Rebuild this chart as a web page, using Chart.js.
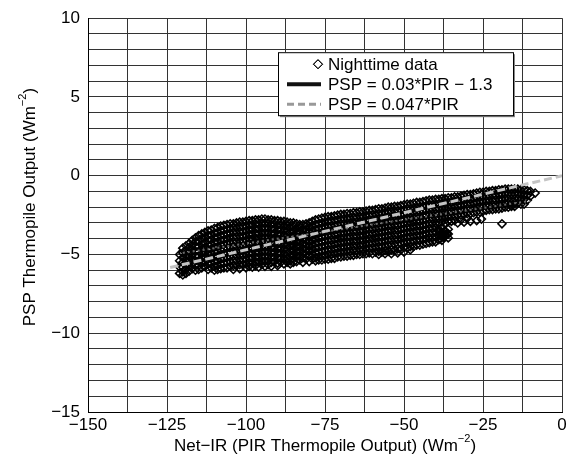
<!DOCTYPE html>
<html>
<head>
<meta charset="utf-8">
<script src="https://cdn.jsdelivr.net/npm/chart.js@4/dist/chart.umd.min.js"></script>
<style>
  html, body { margin: 0; background: #fff; }
  #c { display: block; }
</style>
</head>
<body>
<canvas id="c" width="574" height="459"></canvas>
<script>
// axis ranges / ticks
const xMin = -150, xMax = 0, xGridStep = 12.5, xLabelStep = 25;
const yMin = -15, yMax = 10, yGridStep = 1, yLabelStep = 5;

// nighttime data: [PIR, [PSP values]]
const nightCols = [
  [-121, [-5.0,-5.4,-5.8,-6.2]],
  [-120, [-4.6,-4.9,-5.2,-5.5,-5.8,-6.1,-6.3]],
  [-119, [-4.45,-4.75,-5.05,-5.35,-5.65,-5.95,-6.2]],
  [-118, [-4.3,-4.55,-4.85,-5.15,-5.45,-5.75,-6.05]],
  [-117, [-4.1,-4.4,-4.7,-5.0,-5.3,-5.6,-5.9]],
  [-116, [-3.95,-4.2,-4.5,-4.8,-5.1,-5.4,-5.7,-6.0]],
  [-115, [-3.8,-4.15,-4.5,-4.8,-5.1,-5.4,-5.7,-5.95]],
  [-114, [-3.7,-4.0,-4.35,-4.65,-4.95,-5.25,-5.55,-5.85]],
  [-113, [-3.6,-3.9,-4.25,-4.55,-4.85,-5.15,-5.45,-5.75]],
  [-112, [-3.5,-3.8,-4.1,-4.4,-4.7,-5.0,-5.3,-5.6,-5.95]],
  [-111, [-3.45,-3.75,-4.05,-4.35,-4.65,-4.95,-5.25,-5.55,-5.85]],
  [-110, [-3.35,-3.65,-3.95,-4.25,-4.55,-4.85,-5.15,-5.45,-5.75,-6.0]],
  [-109, [-3.3,-3.6,-3.9,-4.2,-4.5,-4.8,-5.1,-5.4,-5.7,-5.95]],
  [-108, [-3.2,-3.5,-3.8,-4.1,-4.4,-4.7,-5.0,-5.3,-5.6,-5.9]],
  [-107, [-3.15,-3.45,-3.75,-4.05,-4.35,-4.65,-4.95,-5.25,-5.55,-5.85]],
  [-106, [-3.1,-3.4,-3.7,-4.0,-4.3,-4.6,-4.9,-5.2,-5.5,-5.85]],
  [-105, [-3.05,-3.35,-3.65,-3.95,-4.25,-4.55,-4.85,-5.15,-5.45,-5.75]],
  [-104, [-3.05,-3.3,-3.6,-3.9,-4.2,-4.5,-4.8,-5.1,-5.4,-5.7,-5.95]],
  [-103, [-3.0,-3.3,-3.6,-3.9,-4.2,-4.5,-4.8,-5.1,-5.4,-5.7]],
  [-102, [-2.95,-3.25,-3.55,-3.85,-4.15,-4.45,-4.75,-5.05,-5.35,-5.65,-5.9]],
  [-101, [-2.95,-3.25,-3.55,-3.85,-4.15,-4.45,-4.75,-5.05,-5.35,-5.65]],
  [-100, [-2.9,-3.2,-3.5,-3.8,-4.1,-4.4,-4.7,-5.0,-5.3,-5.6,-5.85]],
  [-99,  [-2.85,-3.1,-3.4,-3.7,-4.0,-4.3,-4.6,-4.9,-5.2,-5.5,-5.75]],
  [-98,  [-2.85,-3.15,-3.45,-3.75,-4.05,-4.35,-4.65,-4.95,-5.25,-5.55,-5.8]],
  [-97,  [-2.8,-3.05,-3.35,-3.65,-3.95,-4.25,-4.55,-4.85,-5.15,-5.45,-5.7]],
  [-96,  [-2.8,-3.1,-3.4,-3.7,-4.0,-4.3,-4.6,-4.9,-5.2,-5.5,-5.8]],
  [-95,  [-2.75,-3.0,-3.3,-3.6,-3.9,-4.2,-4.5,-4.8,-5.1,-5.4,-5.65]],
  [-94,  [-2.75,-3.05,-3.35,-3.65,-3.95,-4.25,-4.55,-4.85,-5.15,-5.45,-5.75]],
  [-93,  [-2.8,-3.0,-3.3,-3.6,-3.9,-4.2,-4.5,-4.8,-5.1,-5.4,-5.65]],
  [-92,  [-2.8,-3.1,-3.4,-3.7,-4.0,-4.3,-4.6,-4.9,-5.2,-5.5,-5.75]],
  [-91,  [-2.85,-3.05,-3.35,-3.65,-3.95,-4.25,-4.55,-4.85,-5.15,-5.45]],
  [-90,  [-2.85,-3.15,-3.45,-3.75,-4.05,-4.35,-4.65,-4.95,-5.25,-5.55,-5.7]],
  [-89,  [-2.9,-3.1,-3.4,-3.7,-4.0,-4.3,-4.6,-4.9,-5.2,-5.5]],
  [-88,  [-2.9,-3.2,-3.5,-3.8,-4.1,-4.4,-4.7,-5.0,-5.3,-5.6]],
  [-87,  [-2.95,-3.15,-3.45,-3.75,-4.05,-4.35,-4.65,-4.95,-5.25,-5.5]],
  [-86,  [-3.0,-3.3,-3.6,-3.9,-4.2,-4.5,-4.8,-5.1,-5.4,-5.6]],
  [-85,  [-3.0,-3.2,-3.5,-3.8,-4.1,-4.4,-4.7,-5.0,-5.3,-5.5]],
  [-84,  [-3.05,-3.35,-3.65,-3.95,-4.25,-4.55,-4.85,-5.15,-5.45]],
  [-83,  [-3.1,-3.25,-3.55,-3.85,-4.15,-4.45,-4.75,-5.05,-5.35]],
  [-82,  [-3.1,-3.4,-3.7,-4.0,-4.3,-4.6,-4.9,-5.2,-5.5]],
  [-81,  [-3.05,-3.2,-3.5,-3.8,-4.1,-4.4,-4.7,-5.0,-5.3]],
  [-80,  [-3.0,-3.3,-3.6,-3.9,-4.2,-4.5,-4.8,-5.1,-5.45]],
  [-79,  [-2.9,-3.2,-3.5,-3.8,-4.1,-4.4,-4.7,-5.0,-5.3]],
  [-78,  [-2.8,-3.1,-3.4,-3.7,-4.0,-4.3,-4.6,-4.9,-5.2,-5.4]],
  [-77,  [-2.75,-3.05,-3.35,-3.65,-3.95,-4.25,-4.55,-4.85,-5.15,-5.35]],
  [-76,  [-2.7,-3.0,-3.3,-3.6,-3.9,-4.2,-4.5,-4.8,-5.1,-5.35]],
  [-75,  [-2.65,-2.95,-3.25,-3.55,-3.85,-4.15,-4.45,-4.75,-5.05,-5.3]],
  [-74,  [-2.6,-2.9,-3.2,-3.5,-3.8,-4.1,-4.4,-4.7,-5.0,-5.3]],
  [-73,  [-2.6,-2.9,-3.2,-3.5,-3.8,-4.1,-4.4,-4.7,-5.0,-5.25]],
  [-72,  [-2.55,-2.85,-3.15,-3.45,-3.75,-4.05,-4.35,-4.65,-4.95,-5.25]],
  [-71,  [-2.5,-2.8,-3.1,-3.4,-3.7,-4.0,-4.3,-4.6,-4.9,-5.15]],
  [-70,  [-2.45,-2.75,-3.05,-3.35,-3.65,-3.95,-4.25,-4.55,-4.85,-5.15]],
  [-69,  [-2.45,-2.75,-3.05,-3.35,-3.65,-3.95,-4.25,-4.55,-4.85,-5.1]],
  [-68,  [-2.4,-2.7,-3.0,-3.3,-3.6,-3.9,-4.2,-4.5,-4.8,-5.1]],
  [-67,  [-2.4,-2.7,-3.0,-3.3,-3.6,-3.9,-4.2,-4.5,-4.8,-5.05]],
  [-66,  [-2.35,-2.65,-2.95,-3.25,-3.55,-3.85,-4.15,-4.45,-4.75,-5.05]],
  [-65,  [-2.35,-2.65,-2.95,-3.25,-3.55,-3.85,-4.15,-4.45,-4.75,-5.0]],
  [-64,  [-2.3,-2.6,-2.9,-3.2,-3.5,-3.8,-4.1,-4.4,-4.7,-5.0]],
  [-63,  [-2.3,-2.6,-2.9,-3.2,-3.5,-3.8,-4.1,-4.4,-4.7,-4.95]],
  [-62,  [-2.25,-2.55,-2.85,-3.15,-3.45,-3.75,-4.05,-4.35,-4.65,-4.95]],
  [-61,  [-2.2,-2.5,-2.8,-3.1,-3.4,-3.7,-4.0,-4.3,-4.6,-4.9]],
  [-60,  [-2.2,-2.5,-2.8,-3.1,-3.4,-3.7,-4.0,-4.3,-4.6,-4.95]],
  [-59,  [-2.15,-2.45,-2.75,-3.05,-3.35,-3.65,-3.95,-4.25,-4.55,-4.85]],
  [-58,  [-2.1,-2.4,-2.7,-3.0,-3.3,-3.6,-3.9,-4.2,-4.5,-4.8,-5.0]],
  [-57,  [-2.1,-2.4,-2.7,-3.0,-3.3,-3.6,-3.9,-4.2,-4.5,-4.85]],
  [-56,  [-2.05,-2.35,-2.65,-2.95,-3.25,-3.55,-3.85,-4.15,-4.45,-4.75,-4.95]],
  [-55,  [-2.0,-2.3,-2.6,-2.9,-3.2,-3.5,-3.8,-4.1,-4.4,-4.8]],
  [-54,  [-2.0,-2.3,-2.6,-2.9,-3.2,-3.5,-3.8,-4.1,-4.4,-4.7,-4.95]],
  [-53,  [-1.95,-2.25,-2.55,-2.85,-3.15,-3.45,-3.75,-4.05,-4.35,-4.75]],
  [-52,  [-1.95,-2.25,-2.55,-2.85,-3.15,-3.45,-3.75,-4.05,-4.35,-4.65,-4.9]],
  [-51,  [-1.9,-2.2,-2.5,-2.8,-3.1,-3.4,-3.7,-4.0,-4.3,-4.7]],
  [-50,  [-1.85,-2.15,-2.45,-2.75,-3.05,-3.35,-3.65,-3.95,-4.25,-4.55,-4.85]],
  [-49,  [-1.8,-2.1,-2.4,-2.7,-3.0,-3.3,-3.6,-3.9,-4.2,-4.6]],
  [-48,  [-1.8,-2.1,-2.4,-2.7,-3.0,-3.3,-3.6,-3.9,-4.2,-4.5,-4.7]],
  [-47,  [-1.75,-2.05,-2.35,-2.65,-2.95,-3.25,-3.55,-3.85,-4.15,-4.5]],
  [-46,  [-1.7,-2.0,-2.3,-2.6,-2.9,-3.2,-3.5,-3.8,-4.1,-4.4]],
  [-45,  [-1.7,-2.0,-2.3,-2.6,-2.9,-3.2,-3.5,-3.8,-4.1,-4.4]],
  [-44,  [-1.65,-1.95,-2.25,-2.55,-2.85,-3.15,-3.45,-3.75,-4.05,-4.35]],
  [-43,  [-1.6,-1.9,-2.2,-2.5,-2.8,-3.1,-3.4,-3.7,-4.0,-4.3]],
  [-42,  [-1.55,-1.85,-2.15,-2.45,-2.75,-3.05,-3.35,-3.65,-3.95,-4.25]],
  [-41,  [-1.55,-1.85,-2.15,-2.45,-2.75,-3.05,-3.35,-3.65,-3.95,-4.2]],
  [-40,  [-1.5,-1.8,-2.1,-2.4,-2.7,-3.0,-3.3,-3.6,-3.9,-4.2]],
  [-39,  [-1.5,-1.8,-2.1,-2.4,-2.7,-3.0,-3.5,-3.8,-4.05]],
  [-38,  [-1.45,-1.75,-2.05,-2.35,-2.65,-2.95,-3.3,-3.6,-3.9,-4.1]],
  [-37,  [-1.45,-1.75,-2.05,-2.35,-2.65,-3.0,-3.55,-3.85]],
  [-36,  [-1.4,-1.7,-2.0,-2.3,-2.6,-2.9,-3.4,-3.7,-3.95]],
  [-35,  [-1.4,-1.7,-2.0,-2.3,-2.6,-2.9]],
  [-34,  [-1.35,-1.65,-1.95,-2.25,-2.55,-2.85]],
  [-33,  [-1.35,-1.6,-1.9,-2.2,-2.5]],
  [-32,  [-1.3,-1.6,-1.9,-2.2,-2.5,-2.8]],
  [-31,  [-1.25,-1.55,-1.85,-2.15,-2.45]],
  [-30,  [-1.2,-1.5,-1.8,-2.1,-2.4,-2.7]],
  [-29,  [-1.2,-1.5,-1.8,-2.1,-2.4]],
  [-28,  [-1.15,-1.45,-1.75,-2.05,-2.35]],
  [-27,  [-1.1,-1.4,-1.7,-2.0,-2.3]],
  [-26,  [-1.05,-1.35,-1.65,-1.95,-2.3]],
  [-25,  [-1.05,-1.35,-1.65,-1.95,-2.25]],
  [-24,  [-1.0,-1.3,-1.6,-1.9,-2.2]],
  [-23,  [-1.0,-1.3,-1.6,-1.9,-2.15]],
  [-22,  [-0.95,-1.25,-1.55,-1.85,-2.15]],
  [-21,  [-0.95,-1.25,-1.55,-1.85,-2.1]],
  [-20,  [-0.9,-1.2,-1.5,-1.8,-2.1]],
  [-19,  [-0.9,-1.2,-1.5,-1.8,-2.05]],
  [-18,  [-0.85,-1.15,-1.45,-1.75,-2.0]],
  [-17,  [-0.85,-1.15,-1.45,-1.75,-2.0]],
  [-16,  [-0.85,-1.15,-1.45,-1.75,-1.95]],
  [-15,  [-0.85,-1.15,-1.45,-1.75,-1.95]],
  [-14,  [-0.85,-1.15,-1.45,-1.75]],
  [-13,  [-0.9,-1.2,-1.5,-1.8]],
  [-12,  [-0.9,-1.2,-1.5,-1.8]],
  [-11,  [-0.95,-1.25,-1.55]],
  [-10,  [-1.0,-1.3]],
  [-8.5, [-1.1]]
];
// stray diamonds below the main band
const nightStrayX = [-33, -31, -29, -27, -25.5, -19, -39, -38, -37, -38.5, -37.5, -36.5];
const nightStrayY = [-3.0, -2.95, -2.9, -2.85, -2.75, -3.05, -3.4, -3.7, -3.5, -4.0, -3.9, -3.7];

// fitted lines (end points)
const fitX = [-120, -10];
const fitY = [-4.9, -1.6];
const refX = [-124, 0];
const refY = [-5.83, 0];

const labels = ['Nighttime data', 'PSP = 0.03*PIR \u2212 1.3', 'PSP = 0.047*PIR'];

const FONT = '"Liberation Sans", Arial, Helvetica, sans-serif';
const minus = v => (v < 0 ? '\u2212' + Math.abs(v) : String(v));

const nightPoints = [];
nightCols.forEach(([x, ys]) => ys.forEach(y => nightPoints.push({ x, y })));
nightStrayX.forEach((x, i) => nightPoints.push({ x, y: nightStrayY[i] }));
const fitPoints = fitX.map((x, i) => ({ x, y: fitY[i] }));
const refPoints = refX.map((x, i) => ({ x, y: refY[i] }));

function drawSup(ctx, main, sup, tail, cx, cy) {
  ctx.font = '17px ' + FONT;
  const w1 = ctx.measureText(main).width;
  const w3 = ctx.measureText(tail).width;
  ctx.font = '11px ' + FONT;
  const w2 = ctx.measureText(sup).width;
  let x = cx - (w1 + w2 + w3) / 2;
  ctx.textAlign = 'left';
  ctx.textBaseline = 'middle';
  ctx.font = '17px ' + FONT;
  ctx.fillText(main, x, cy); x += w1;
  ctx.font = '11px ' + FONT;
  ctx.fillText(sup, x, cy - 7); x += w2;
  ctx.font = '17px ' + FONT;
  ctx.fillText(tail, x, cy);
}

const overlay = {
  id: 'overlay',
  afterDraw(chart) {
    const { ctx, chartArea: a } = chart;
    ctx.save();
    ctx.fillStyle = '#000';
    // axis titles
    drawSup(ctx, 'Net\u2212IR (PIR Thermopile Output) (Wm', '\u22122', ')', (a.left + a.right) / 2, 446);
    ctx.save();
    ctx.translate(30, (a.top + a.bottom) / 2 - 8);
    ctx.rotate(-Math.PI / 2);
    drawSup(ctx, 'PSP Thermopile Output (Wm', '\u22122', ')', 0, 0);
    ctx.restore();

    // legend box
    const bx = a.left + 190, by = a.top + 34, bw = 235, bh = 63;
    ctx.fillStyle = '#888';
    ctx.fillRect(bx + 2, by + 2, bw, bh);
    ctx.fillStyle = '#fff';
    ctx.fillRect(bx, by, bw, bh);
    ctx.strokeStyle = '#000';
    ctx.lineWidth = 1;
    ctx.strokeRect(bx + 0.5, by + 0.5, bw, bh);

    const rows = [by + 12, by + 32, by + 52];
    // diamond
    Chart.helpers.drawPoint(ctx, { pointStyle: 'rectRot', radius: 4.5, borderWidth: 1 }, bx + 40, rows[0]);
    ctx.strokeStyle = '#000';
    ctx.stroke();
    // black fit line sample
    ctx.beginPath();
    ctx.lineWidth = 4;
    ctx.strokeStyle = '#111';
    ctx.moveTo(bx + 9, rows[1]); ctx.lineTo(bx + 43, rows[1]);
    ctx.stroke();
    // gray dashed sample
    ctx.beginPath();
    ctx.lineWidth = 3;
    ctx.strokeStyle = '#999';
    ctx.setLineDash([7, 4]);
    ctx.moveTo(bx + 9, rows[2]); ctx.lineTo(bx + 43, rows[2]);
    ctx.stroke();
    ctx.setLineDash([]);

    ctx.fillStyle = '#000';
    ctx.font = '17px ' + FONT;
    ctx.textAlign = 'left';
    ctx.textBaseline = 'middle';
    labels.forEach((t, i) => ctx.fillText(t, bx + 50, rows[i] + 1));
    ctx.restore();
  }
};

new Chart(document.getElementById('c'), {
  type: 'scatter',
  data: {
    datasets: [
      {
        label: labels[2], type: 'line', data: refPoints, order: 0,
        borderColor: '#c4c4c4', borderWidth: 3, borderDash: [8, 4],
        pointRadius: 0, fill: false
      },
      {
        label: labels[1], type: 'line', data: fitPoints, order: 1,
        borderColor: '#6a6a6a', borderWidth: 2, borderDash: [2, 3],
        pointRadius: 0, fill: false
      },
      {
        label: labels[0], data: nightPoints, order: 2,
        pointStyle: 'rectRot', pointRadius: 4, borderWidth: 1.6,
        borderColor: '#000', backgroundColor: 'rgba(0,0,0,0)'
      }
    ]
  },
  options: {
    responsive: false,
    animation: false,
    layout: { padding: { left: 0, right: 12, top: 14, bottom: 0 } },
    plugins: { legend: { display: false }, tooltip: { enabled: false } },
    scales: {
      x: {
        type: 'linear', min: xMin, max: xMax,
        afterFit(s) { s.height = 47; },
        border: { display: true, color: '#000', width: 1 },
        grid: { color: '#333', lineWidth: 1, drawTicks: false },
        ticks: {
          stepSize: xGridStep, autoSkip: false, maxRotation: 0, padding: 3,
          color: '#000', font: { family: FONT, size: 17 },
          callback: v => (v % xLabelStep === 0 ? minus(v) : '')
        }
      },
      y: {
        type: 'linear', min: yMin, max: yMax,
        afterFit(s) { s.width = 88; },
        border: { display: true, color: '#000', width: 1 },
        grid: { color: '#333', lineWidth: 1, drawTicks: false },
        ticks: {
          stepSize: yGridStep, autoSkip: false, padding: 8,
          color: '#000', font: { family: FONT, size: 17 },
          callback: v => (v % yLabelStep === 0 ? minus(v) : '')
        }
      }
    }
  },
  plugins: [overlay]
});
</script>
</body>
</html>
